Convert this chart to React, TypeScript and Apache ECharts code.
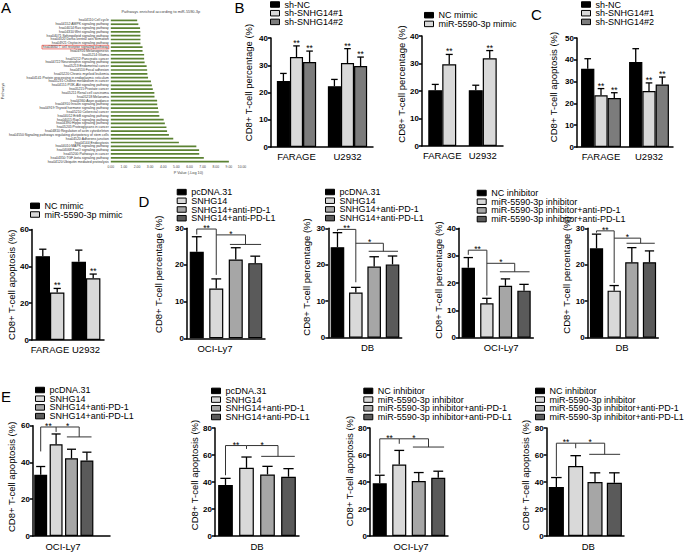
import { useEffect, useRef } from 'react';
import * as echarts from 'echarts';

const FONT = '"Liberation Sans", Arial, Helvetica, sans-serif';

// ---------------- Panel A : KEGG pathways ----------------
const pathwayNames = [
  'hsa04110:Cell cycle',
  'hsa04152:AMPK signaling pathway',
  'hsa04014:Ras signaling pathway',
  'hsa04310:Wnt signaling pathway',
  'hsa04071:Sphingolipid signaling pathway',
  'hsa04320:Dorso-ventral axis formation',
  'hsa04921:Oxytocin signaling pathway',
  'hsa04660:T cell receptor signaling pathway',
  'hsa04916:Melanogenesis',
  'hsa05214:Glioma',
  'hsa05212:Pancreatic cancer',
  'hsa04722:Neurotrophin signaling pathway',
  'hsa05213:Endometrial cancer',
  'hsa04510:Focal adhesion',
  'hsa05220:Chronic myeloid leukemia',
  'hsa04141:Protein processing in endoplasmic reticulum',
  'hsa05231:Choline metabolism in cancer',
  'hsa04151:PI3K-Akt signaling pathway',
  'hsa05215:Prostate cancer',
  'hsa05211:Renal cell carcinoma',
  'hsa05218:Melanoma',
  'hsa04360:Axon guidance',
  'hsa04910:Insulin signaling pathway',
  'hsa04919:Thyroid hormone signaling pathway',
  'hsa05210:Colorectal cancer',
  'hsa04012:ErbB signaling pathway',
  'hsa04015:Rap1 signaling pathway',
  'hsa04390:Hippo signaling pathway',
  'hsa05205:Proteoglycans in cancer',
  'hsa04810:Regulation of actin cytoskeleton',
  'hsa04550:Signaling pathways regulating pluripotency of stem cells',
  'hsa04520:Adherens junction',
  'hsa04144:Endocytosis',
  'hsa04010:MAPK signaling pathway',
  'hsa04068:FoxO signaling pathway',
  'hsa05200:Pathways in cancer',
  'hsa04350:TGF-beta signaling pathway',
  'hsa04120:Ubiquitin mediated proteolysis',
];
const pathwayScores = [
  2.01, 2.1, 2.23, 2.25, 2.26, 2.26, 2.26, 2.42, 2.42, 2.54, 2.54, 2.58, 2.73,
  2.77, 2.79, 2.84, 3.06, 3.13, 3.2, 3.32, 3.33, 3.53, 3.54, 3.6, 3.65, 3.7,
  4.03, 4.12, 4.24, 4.29, 4.43, 4.76, 5.19, 6.52, 6.73, 6.74, 7.09, 9.0,
];
const highlightedPathway = 'hsa04660:T cell receptor signaling pathway';
const pathwayTicks = [0, 10, 1];

// ---------------- Panel B / C / mimic apoptosis ----------------
const cellLines = ['FARAGE', 'U2932'];
const shNames = ['sh-NC', 'sh-SNHG14#1', 'sh-SNHG14#2'];
const mimicNames = ['NC mimic', 'miR-5590-3p mimic'];

const bPctShNC = [24.2, 22.3];
const bPctShNCErr = [2.8, 2.5];
const bPctSh1 = [33.0, 30.8];
const bPctSh1Err = [4.1, 5.3];
const bPctSh2 = [31.2, 29.7];
const bPctSh2Err = [4.0, 3.3];

const bPctNCMimic = [20.3, 20.3];
const bPctNCMimicErr = [2.1, 1.8];
const bPctMiRMimic = [29.7, 31.9];
const bPctMiRMimicErr = [3.6, 2.8];

const cApoShNC = [35.9, 39.0];
const cApoShNCErr = [4.6, 6.1];
const cApoSh1 = [23.7, 25.7];
const cApoSh1Err = [3.1, 3.7];
const cApoSh2 = [22.5, 28.7];
const cApoSh2Err = [2.4, 3.4];

const mApoNCMimic = [45.5, 42.5];
const mApoNCMimicErr = [3.8, 6.3];
const mApoMiRMimic = [25.8, 33.5];
const mApoMiRMimicErr = [2.2, 2.3];

// ---------------- Panel D / E ----------------
const pcNames = ['pcDNA.31', 'SNHG14', 'SNHG14+anti-PD-1', 'SNHG14+anti-PD-L1'];
const inhNames = [
  'NC inhibitor',
  'miR-5590-3p inhibitor',
  'miR-5590-3p inhibitor+anti-PD-1',
  'miR-5590-3p inhibitor+anti-PD-L1',
];

const dPctOciSnhg = [23.6, 13.6, 21.5, 20.5];
const dPctOciSnhgErr = [4.1, 2.6, 3.2, 1.9];
const dPctDbSnhg = [24.8, 12.4, 19.5, 20.1];
const dPctDbSnhgErr = [4.0, 1.4, 2.7, 2.3];
const dPctOciInh = [25.6, 12.6, 19.0, 17.2];
const dPctOciInhErr = [3.7, 1.8, 2.5, 2.3];
const dPctDbInh = [24.5, 12.9, 20.7, 20.7];
const dPctDbInhErr = [3.9, 1.4, 4.0, 3.1];

const eApoOciSnhg = [33.3, 49.9, 42.3, 41.1];
const eApoOciSnhgErr = [4.5, 5.6, 4.9, 4.5];
const eApoDbSnhg = [37.8, 50.5, 45.6, 43.9];
const eApoDbSnhgErr = [4.9, 8.0, 6.0, 6.0];
const eApoOciInh = [39.0, 52.9, 40.7, 43.2];
const eApoOciInhErr = [6.0, 10.5, 6.3, 4.8];
const eApoDbInh = [36.3, 51.8, 40.0, 39.5];
const eApoDbInhErr = [7.0, 7.7, 6.8, 7.3];

// significance brackets: [bracket1 y, left leg end, right leg end, bracket2 y, group line y]
const sigD1 = [29.8, 28.3, 17.3, 28.2, 25.6];
const sigD2 = [29.7, 29.2, 15.2, 25.9, 23.7];
const sigD3 = [32.0, 30.3, 15.4, 27.2, 24.1];
const sigD4 = [29.3, 28.8, 15.0, 27.3, 25.9];
const sigE1 = [59.3, 46.0, 56.6, 59.3, 53.9];
const sigE2 = [67.0, 45.0, 64.5, 67.0, 59.0];
const sigE3 = [72.0, 46.3, 68.3, 72.0, 65.9];
const sigE4 = [68.75, 44.5, 65.0, 68.75, 60.5];

const COL_BLACK = '#000000';
const COL_LIGHT = '#d9d9d9';
const COL_SH2 = '#7c7c7c';
const COL_PD1 = '#a6a6a6';
const COL_PDL1 = '#5a5a5a';

function yShiftPad(up: number) {
  return up >= 0 ? [0, 0, 0, 2 * up] : [0, -2 * up, 0, 0];
}
function xShiftPad(right: number) {
  return right >= 0 ? [0, 0, 0, 2 * right] : [0, -2 * right, 0, 0];
}

function buildOption() {
  const grid: any[] = [];
  const xAxis: any[] = [];
  const yAxis: any[] = [];
  const series: any[] = [];
  const legend: any[] = [];

  const lineEl = (x1: number, y1: number, x2: number, y2: number, w = 1.3, c = '#000') => ({
    type: 'line',
    shape: { x1, y1, x2, y2 },
    style: { stroke: c, lineWidth: w },
  });
  const starEl = (t: string, x: number, y: number) => ({
    type: 'text',
    style: {
      text: t,
      x,
      y,
      align: 'center',
      verticalAlign: 'bottom',
      fontSize: 8.5,
      fontFamily: FONT,
      fill: '#000',
    },
  });

  // ---------- A ----------
  grid.push({ left: 101, top: 18.5, width: 141, height: 145 });
  xAxis.push({
    gridIndex: 0,
    type: 'value',
    min: pathwayTicks[0],
    max: pathwayTicks[1],
    interval: pathwayTicks[2],
    axisLine: { show: false },
    axisTick: { show: false },
    splitLine: { show: false },
    axisLabel: {
      fontSize: 3.4,
      color: '#444',
      margin: 1.5,
      fontFamily: FONT,
      formatter: (v: number) => v.toFixed(2),
    },
    name: 'P Value (-Log 10)',
    nameLocation: 'middle',
    nameGap: 7.3,
    nameTextStyle: { fontSize: 3.8, color: '#444', fontFamily: FONT, padding: xShiftPad(12) },
  });
  yAxis.push({
    gridIndex: 0,
    type: 'category',
    inverse: true,
    data: pathwayNames,
    axisLine: { show: false },
    axisTick: { show: false },
    axisLabel: {
      interval: 0,
      fontSize: 3.4,
      color: '#333',
      margin: 2,
      fontFamily: FONT,
      formatter: (v: string) => (v === highlightedPathway ? '{hl|' + v + '}' : v),
      rich: {
        hl: {
          fontSize: 3.4,
          color: '#333',
          fontFamily: FONT,
          borderColor: '#e2403a',
          borderWidth: 0.7,
          padding: [0.4, 0.8, 0.2, 0.8],
        },
      },
    },
    name: 'Pathways',
    nameLocation: 'middle',
    nameGap: 94,
    nameTextStyle: { fontSize: 3.8, color: '#444', fontFamily: FONT },
  });
  series.push({
    type: 'bar',
    xAxisIndex: 0,
    yAxisIndex: 0,
    data: pathwayScores,
    barWidth: 1.7,
    itemStyle: { color: '#5b8232' },
    silent: true,
  });

  const yAxisCfg = (gi: number, p: any) => ({
    gridIndex: gi,
    type: 'value',
    min: 0,
    max: p.yMax,
    interval: p.yInt,
    axisLine: { show: true, lineStyle: { color: '#000', width: 1.5 } },
    axisTick: { show: true, length: 3, lineStyle: { color: '#000', width: 1.5 } },
    splitLine: { show: false },
    axisLabel: { color: '#000', fontSize: 8, fontWeight: 'bold', fontFamily: FONT, margin: 3 },
    name: p.yTitle,
    nameLocation: 'middle',
    nameGap: p.nameGap,
    nameTextStyle: {
      fontSize: 9.5,
      color: '#000',
      fontFamily: FONT,
      padding: yShiftPad(p.titleShift),
    },
  });

  const legendCfg = (names: string[], left: number, top: number) => ({
    orient: 'vertical',
    left,
    top,
    padding: 0,
    itemGap: -0.3,
    itemWidth: 9,
    itemHeight: 5.5,
    icon: 'rect',
    selectedMode: false,
    data: names,
    itemStyle: { borderColor: '#000', borderWidth: 1 },
    textStyle: { fontSize: 9, fontFamily: FONT, color: '#000' },
  });

  // ---------- grouped panels ----------
  const addGrouped = (p: any) => {
    const gi = grid.length;
    grid.push({ left: p.left, top: p.top, width: p.width, height: p.height });
    xAxis.push({
      gridIndex: gi,
      type: 'category',
      data: cellLines,
      axisLine: { lineStyle: { color: '#000', width: 1.5 } },
      axisTick: { show: false },
      axisLabel: { interval: 0, color: '#000', fontSize: 9.5, margin: 4, fontFamily: FONT },
    });
    yAxis.push(yAxisCfg(gi, p));
    const n = p.names.length;
    p.names.forEach((nm: string, k: number) =>
      series.push({
        type: 'bar',
        name: nm,
        xAxisIndex: gi,
        yAxisIndex: gi,
        data: p.means[k],
        barGap: '0%',
        barCategoryGap: p.catGap * 100 + '%',
        itemStyle: { color: p.colors[k], borderColor: '#000', borderWidth: 1.2 },
        z: 2,
        silent: true,
      })
    );
    const pts: number[][] = [];
    const stars: string[] = [];
    p.means.forEach((arr: number[], k: number) =>
      arr.forEach((m: number, j: number) => {
        pts.push([j, m, p.errs[k][j], k]);
        stars.push(p.stars[k]);
      })
    );
    series.push({
      type: 'custom',
      xAxisIndex: gi,
      yAxisIndex: gi,
      data: pts,
      z: 5,
      silent: true,
      encode: { x: 0, y: 1 },
      renderItem: (params: any, api: any) => {
        const j = api.value(0);
        const m = api.value(1);
        const e = api.value(2);
        const k = api.value(3);
        const band = api.size([1, 0])[0];
        const bw = (band * (1 - p.catGap)) / n;
        const cx = api.coord([j, 0])[0] + (k - (n - 1) / 2) * bw;
        const yTop = api.coord([j, m])[1];
        const yErr = api.coord([j, m + e])[1];
        const half = (bw * 0.5) / 2;
        const children: any[] = [lineEl(cx, yTop, cx, yErr), lineEl(cx - half, yErr, cx + half, yErr)];
        const s = stars[params.dataIndex];
        if (s) children.push(starEl(s, cx, yErr + 1.5));
        return { type: 'group', children };
      },
    });
    legend.push(legendCfg(p.names, p.legLeft, p.legTop));
  };

  // ---------- single-category-per-bar panels ----------
  const addSingle = (p: any) => {
    const gi = grid.length;
    grid.push({ left: p.left, top: p.top, width: p.width, height: p.height });
    xAxis.push({
      gridIndex: gi,
      type: 'category',
      data: ['g0', 'g1', 'g2', 'g3'],
      max: p.bands - 1,
      axisLine: { lineStyle: { color: '#000', width: 1.5 } },
      axisTick: { show: false },
      axisLabel: { show: false },
      name: p.xName,
      nameLocation: 'middle',
      nameGap: 5,
      nameTextStyle: { fontSize: 9.5, color: '#000', fontFamily: FONT, padding: xShiftPad(p.xShift) },
    });
    yAxis.push(yAxisCfg(gi, p));
    p.names.forEach((nm: string, k: number) =>
      series.push({
        type: 'bar',
        name: nm,
        xAxisIndex: gi,
        yAxisIndex: gi,
        data: p.means.map((v: number, i: number) => (i === k ? v : '-')),
        barGap: '-100%',
        barCategoryGap: p.catGap * 100 + '%',
        itemStyle: { color: p.colors[k], borderColor: '#000', borderWidth: 1.2 },
        z: 2,
        silent: true,
      })
    );
    series.push({
      type: 'custom',
      xAxisIndex: gi,
      yAxisIndex: gi,
      data: p.means.map((m: number, i: number) => [i, m, p.errs[i]]),
      z: 5,
      silent: true,
      encode: { x: 0, y: 1 },
      renderItem: (params: any, api: any) => {
        const i = api.value(0);
        const m = api.value(1);
        const e = api.value(2);
        const band = api.size([1, 0])[0];
        const bw = band * (1 - p.catGap);
        const cx = api.coord([i, 0])[0];
        const yTop = api.coord([i, m])[1];
        const yErr = api.coord([i, m + e])[1];
        const half = (bw * 0.7) / 2;
        return {
          type: 'group',
          children: [lineEl(cx, yTop, cx, yErr), lineEl(cx - half, yErr, cx + half, yErr)],
        };
      },
    });
    const sig = p.sig;
    series.push({
      type: 'custom',
      xAxisIndex: gi,
      yAxisIndex: gi,
      data: [[0, sig[0]]],
      z: 6,
      silent: true,
      encode: { x: 0, y: 1 },
      renderItem: (params: any, api: any) => {
        const band = api.size([1, 0])[0];
        const cx = (i: number) => api.coord([i, 0])[0];
        const cy = (v: number) => api.coord([0, v])[1];
        const c0 = cx(0);
        const c1 = cx(1);
        const c2 = cx(2);
        const c3 = cx(3);
        const mid = (c2 + c3) / 2;
        const st = { stroke: '#333', lineWidth: 1, fill: 'none' };
        return {
          type: 'group',
          children: [
            {
              type: 'polyline',
              shape: { points: [[c0, cy(sig[1])], [c0, cy(sig[0])], [c1, cy(sig[0])], [c1, cy(sig[2])]] },
              style: st,
            },
            {
              type: 'polyline',
              shape: { points: [[c1, cy(sig[3])], [mid, cy(sig[3])], [mid, cy(sig[4])]] },
              style: st,
            },
            lineEl(c2 - 0.3 * band, cy(sig[4]), c3 + 0.3 * band, cy(sig[4]), 1, '#333'),
            starEl('**', (c0 + c1) / 2, cy(sig[0]) + 3.5),
            starEl('*', (c1 + mid) / 2, cy(sig[3]) + 3.5),
          ],
        };
      },
    });
    if (p.legLeft != null) legend.push(legendCfg(p.names, p.legLeft, p.legTop));
  };

  const PCT = 'CD8+ T-cell percentage (%)';
  const APO = 'CD8+ T-cell apoptosis (%)';

  addGrouped({
    left: 271, top: 38, width: 102, height: 109, yMax: 40, yInt: 10, yTitle: PCT, nameGap: 18, titleShift: 10,
    catGap: 0.23, names: shNames, colors: [COL_BLACK, COL_LIGHT, COL_SH2],
    means: [bPctShNC, bPctSh1, bPctSh2], errs: [bPctShNCErr, bPctSh1Err, bPctSh2Err], stars: ['', '**', '**'],
    legLeft: 270, legTop: 0,
  });
  addGrouped({
    left: 422, top: 36, width: 81, height: 110, yMax: 40, yInt: 10, yTitle: PCT, nameGap: 11.5, titleShift: 7,
    catGap: 0.31, names: mimicNames, colors: [COL_BLACK, COL_LIGHT],
    means: [bPctNCMimic, bPctMiRMimic], errs: [bPctNCMimicErr, bPctMiRMimicErr], stars: ['', '**'],
    legLeft: 424, legTop: 10.7,
  });
  addGrouped({
    left: 577, top: 38, width: 96, height: 109, yMax: 50, yInt: 10, yTitle: APO, nameGap: 18.4, titleShift: 5.5,
    catGap: 0.17, names: shNames, colors: [COL_BLACK, COL_LIGHT, COL_SH2],
    means: [cApoShNC, cApoSh1, cApoSh2], errs: [cApoShNCErr, cApoSh1Err, cApoSh2Err], stars: ['', '**', '**'],
    legLeft: 581, legTop: 0,
  });
  addGrouped({
    left: 32, top: 229.5, width: 72, height: 110.5, yMax: 60, yInt: 20, yTitle: APO, nameGap: 15, titleShift: 0,
    catGap: 0.2, names: mimicNames, colors: [COL_BLACK, COL_LIGHT],
    means: [mApoNCMimic, mApoMiRMimic], errs: [mApoNCMimicErr, mApoMiRMimicErr], stars: ['', '**'],
    legLeft: 30, legTop: 201.3,
  });

  const pcCols = [COL_BLACK, COL_LIGHT, COL_PD1, COL_PDL1];

  addSingle({
    left: 187, top: 228.3, width: 78, height: 110, yMax: 30, yInt: 10, yTitle: PCT, nameGap: 24, titleShift: 9,
    bands: 4, catGap: 0.28, xName: 'OCI-Ly7', xShift: -11, names: pcNames, colors: pcCols,
    means: dPctOciSnhg, errs: dPctOciSnhgErr, sig: sigD1, legLeft: 176.7, legTop: 187.6,
  });
  addSingle({
    left: 328.3, top: 228.3, width: 73.4, height: 109.4, yMax: 30, yInt: 10, yTitle: PCT, nameGap: 17, titleShift: 6,
    bands: 4, catGap: 0.26, xName: 'DB', xShift: 2.5, names: pcNames, colors: pcCols,
    means: dPctDbSnhg, errs: dPctDbSnhgErr, sig: sigD2, legLeft: 325, legTop: 187.5,
  });
  addSingle({
    left: 459, top: 228.3, width: 74.3, height: 109.4, yMax: 40, yInt: 10, yTitle: PCT, nameGap: 15, titleShift: 3,
    bands: 4, catGap: 0.28, xName: 'OCI-Ly7', xShift: 5, names: inhNames, colors: pcCols,
    means: dPctOciInh, errs: dPctOciInhErr, sig: sigD3, legLeft: 476.7, legTop: 188.5,
  });
  addSingle({
    left: 587.7, top: 228.3, width: 70.6, height: 109.4, yMax: 30, yInt: 10, yTitle: PCT, nameGap: 15, titleShift: 8,
    bands: 4, catGap: 0.25, xName: 'DB', xShift: -1, names: inhNames, colors: pcCols,
    means: dPctDbInh, errs: dPctDbInhErr, sig: sigD4,
  });
  addSingle({
    left: 33, top: 425.7, width: 77, height: 111, yMax: 60, yInt: 20, yTitle: APO, nameGap: 17, titleShift: 4,
    bands: 5, catGap: 0.16, xName: 'OCI-Ly7', xShift: -8.5, names: pcNames, colors: pcCols,
    means: eApoOciSnhg, errs: eApoOciSnhgErr, sig: sigE1, legLeft: 35, legTop: 385.5,
  });
  addSingle({
    left: 215, top: 428, width: 84, height: 108.7, yMax: 80, yInt: 20, yTitle: APO, nameGap: 12, titleShift: 7,
    bands: 4, catGap: 0.3, xName: 'DB', xShift: 0, names: pcNames, colors: pcCols,
    means: eApoDbSnhg, errs: eApoDbSnhgErr, sig: sigE2, legLeft: 211, legTop: 386.4,
  });
  addSingle({
    left: 370, top: 428, width: 78, height: 108.7, yMax: 80, yInt: 20, yTitle: APO, nameGap: 11, titleShift: 11,
    bands: 4, catGap: 0.28, xName: 'OCI-Ly7', xShift: 2, names: inhNames, colors: pcCols,
    means: eApoOciInh, errs: eApoOciInhErr, sig: sigE3, legLeft: 363.3, legTop: 386.4,
  });
  addSingle({
    left: 546.7, top: 428, width: 77.3, height: 108.7, yMax: 80, yInt: 20, yTitle: APO, nameGap: 14, titleShift: 7,
    bands: 4, catGap: 0.22, xName: 'DB', xShift: 3, names: inhNames, colors: pcCols,
    means: eApoDbInh, errs: eApoDbInhErr, sig: sigE4, legLeft: 535, legTop: 386.4,
  });

  const letter = (t: string, x: number, y: number) => ({
    type: 'text',
    x,
    y,
    style: { text: t, fontSize: 15, fontFamily: FONT, fill: '#000', verticalAlign: 'top' },
  });

  return {
    animation: false,
    backgroundColor: '#ffffff',
    grid,
    xAxis,
    yAxis,
    series,
    legend,
    graphic: [
      letter('A', 1, 0),
      letter('B', 234.5, 0),
      letter('C', 531, 7),
      letter('D', 138.5, 194),
      letter('E', 1, 389),
      {
        type: 'text',
        x: 160.8,
        y: 11.7,
        style: {
          text: 'Pathways enriched according to miR-5590-3p',
          fontSize: 3.9,
          fontFamily: FONT,
          fill: '#444',
          align: 'center',
          verticalAlign: 'middle',
        },
      },
    ],
  };
}

export default function App() {
  const ref = useRef<HTMLDivElement>(null);
  useEffect(() => {
    if (!ref.current) return;
    const chart = echarts.init(ref.current, null, { renderer: 'svg' });
    chart.setOption(buildOption() as any);
    return () => chart.dispose();
  }, []);
  return (
    <div
      ref={ref}
      style={{ position: 'absolute', left: 0, top: 0, width: 685, height: 552, background: '#fff' }}
    />
  );
}
